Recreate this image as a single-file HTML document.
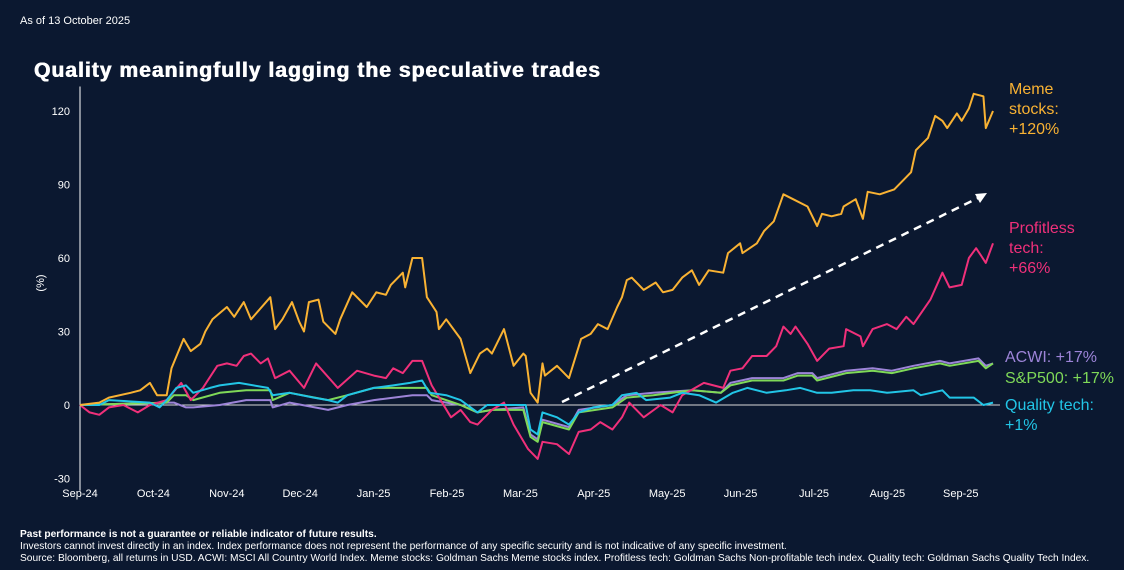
<!DOCTYPE html>
<html><head><meta charset="utf-8">
<style>
html,body{margin:0;padding:0;background:#0b1830;}
body{width:1124px;height:570px;overflow:hidden;position:relative;font-family:"Liberation Sans",Arial,sans-serif;color:#fff;}
.t{position:absolute;white-space:nowrap;}
</style></head>
<body>
<div class="t" style="left:20px;top:15px;font-size:11px;">As of 13 October 2025</div>
<div class="t" style="left:34px;top:59px;font-size:21px;font-weight:bold;letter-spacing:1.05px;text-shadow:0.5px 0 0 #fff,-0.3px 0 0 #fff;">Quality meaningfully lagging the speculative trades</div>
<svg id="chart" width="1124" height="570" style="position:absolute;left:0;top:0;"></svg>
<div class="t" style="left:1009px;top:80px;font-size:16px;line-height:20px;color:#f9b233;">Meme<br>stocks:<br>+120%</div>
<div class="t" style="left:1009px;top:219px;font-size:16px;line-height:20px;color:#f0307a;">Profitless<br>tech:<br>+66%</div>
<div class="t" style="left:1005px;top:349px;font-size:16px;color:#9d84d8;">ACWI: +17%</div>
<div class="t" style="left:1005px;top:370px;font-size:16px;color:#7fd958;">S&amp;P500: +17%</div>
<div class="t" style="left:1005px;top:396px;font-size:16px;line-height:20px;color:#22c5e6;">Quality tech:<br>+1%</div>
<div class="t" style="left:20px;top:529px;font-size:10.2px;line-height:12px;">
<b>Past performance is not a guarantee or reliable indicator of future results.</b><br>
Investors cannot invest directly in an index. Index performance does not represent the performance of any specific security and is not indicative of any specific investment.<br>
Source: Bloomberg, all returns in USD. ACWI: MSCI All Country World Index. Meme stocks: Goldman Sachs Meme stocks index. Profitless tech: Goldman Sachs Non-profitable tech index. Quality tech: Goldman Sachs Quality Tech Index.</div>
<script>
const monthLabels=["Sep-24","Oct-24","Nov-24","Dec-24","Jan-25","Feb-25","Mar-25","Apr-25","May-25","Jun-25","Jul-25","Aug-25","Sep-25"];
const yTicks=[120,90,60,30,0,-30];
const memeDays=[0,8,12,21,25,29,32,36,38,43,46,50,52,55,61,64,68,71,79,81,84,88,91,93,95,99,101,106,108,113,119,123,127,129,134,135,138,142,144,148,149,152,158,162,166,169,171,176,180,184,185,187,190,192,193,198,203,208,212,215,219,223,225,227,229,234,239,242,246,250,254,257,261,267,269,274,275,281,284,288,292,296,302,306,308,312,316,317,322,325,327,332,338,342,345,347,352,355,358,360,364,366,369,371,375,376,379];
const memeVals=[0,1,3,5,6,9,4,4,15,27,22,25,30,35,40,36,42,35,44,31,35,42,34,30,42,43,34,29,35,46,40,46,45,49,54,48,60,60,44,38,31,35,27,13,21,23,21,31,16,21,20,5,1,17,12,16,11,27,29,33,31,40,44,51,52,47,50,46,47,52,55,49,55,54,62,66,62,66,71,75,86,84,81,73,78,77,78,81,84,76,87,86,88,92,95,104,109,118,116,113,119,116,121,127,126,113,120];
const profDays=[0,4,8,12,18,24,29,36,42,46,51,57,61,65,68,71,75,78,81,87,93,98,107,115,122,127,130,134,138,142,146,154,158,162,165,171,176,180,186,190,192,198,203,207,212,216,221,225,228,234,241,246,250,259,267,270,275,279,285,289,292,295,297,302,306,311,317,318,324,325,329,335,339,343,346,353,358,361,366,369,372,374,376,379];
const profVals=[0,-3,-4,-1,0,-3,0,2,9,2,7,16,17,16,20,21,17,19,11,14,7,17,7,14,12,11,15,13,18,18,8,-5,-2,-7,-8,-2,1,-8,-18,-22,-15,-16,-20,-11,-10,-7,-10,-5,1,-5,0,-3,4,9,7,14,15,20,20,24,32,29,32,25,18,23,24,31,28,24,31,33,31,36,33,43,54,48,49,60,64,61,58,66];
const qualDays=[0,8,12,29,33,36,40,44,47,54,58,66,78,80,87,97,103,107,111,122,130,137,142,145,152,158,165,169,177,185,187,190,192,198,203,207,213,221,225,231,235,245,250,257,264,271,277,285,293,299,306,312,321,328,335,346,349,358,361,371,375,379];
const qualVals=[0,0,2,1,-1,2,7,8,5,7,8,9,7,4,5,3,2,1,4,7,8,9,10,5,4,2,-3,0,0,0,-10,-12,-3,-5,-8,-3,-1,0,4,5,2,3,5,4,1,5,7,5,6,7,5,5,6,6,5,6,4,6,3,3,0,1];
const broadDays=[0,36,39,44,47,58,69,79,80,87,103,111,122,138,144,146,158,165,171,184,187,190,192,203,207,221,227,238,254,266,270,279,292,298,304,306,318,329,337,346,357,361,373,376,379];
const spVals=[0,1,4,4,2,5,6,6,2,5,2,4,7,7,7,4,0,-3,-2,-2,-13,-15,-7,-10,-3,-1,3,4,6,5,8,10,10,12,12,10,13,14,13,15,17,16,18,15,17];
const acwiVals=[0,1,1,-1,-1,0,2,2,-1,1,-2,0,2,4,4,2,0,-3,-2,-1,-12,-14,-6,-9,-2,0,4,5,6,5,9,11,11,13,13,11,14,15,14,16,18,17,19,16,17];

const NS="http://www.w3.org/2000/svg";
const svg=document.getElementById('chart');
const X0=80,X1=993,D1=379,Y0=405,PPU=2.45,MONTHPX=73.4;
const xd=d=>X0+(d/D1)*(X1-X0);
const yv=v=>Y0-v*PPU;
function mk(tag,attrs){const e=document.createElementNS(NS,tag);for(const k in attrs)e.setAttribute(k,attrs[k]);svg.appendChild(e);return e;}

const ax=mk('line',{x1:X0,y1:yv(130),x2:X0,y2:yv(-35),stroke:'#ffffff','stroke-width':1});


const zl=mk('line',{x1:X0,y1:Y0,x2:1000,y2:Y0,stroke:'#d8d8d8','stroke-width':1});



yTicks.forEach(v=>{
  const t=mk('text',{x:70,y:yv(v)+4,'text-anchor':'end',fill:'#fff','font-size':11,'font-family':'Liberation Sans, sans-serif'});
  t.textContent=v;
  
  
});
const yt=mk('text',{x:44,y:283,'text-anchor':'middle',fill:'#fff','font-size':11,'font-family':'Liberation Sans, sans-serif',transform:'rotate(-90 44 283)'});
yt.textContent='(%)';


monthLabels.forEach((m,i)=>{
  const t=mk('text',{x:X0+i*MONTHPX,y:497,'text-anchor':'middle',fill:'#fff','font-size':11,'font-family':'Liberation Sans, sans-serif'});
  t.textContent=m;
  
  
});

function line(days,vals,color,name){
  const pts=days.map((d,i)=>xd(d).toFixed(1)+','+yv(vals[i]).toFixed(1)).join(' ');
  const p=mk('polyline',{points:pts,fill:'none',stroke:color,'stroke-width':2,'stroke-linejoin':'round'});
  
  
}
line(broadDays,acwiVals,'#9d84d8','series-acwi');
line(broadDays,spVals,'#7fd958','series-sp500');
line(profDays,profVals,'#f0307a','series-profitless-tech');
line(qualDays,qualVals,'#22c5e6','series-quality-tech');
line(memeDays,memeVals,'#f9b233','series-meme-stocks');

const ar=mk('line',{x1:562,y1:402,x2:978,y2:198,stroke:'#fff','stroke-width':2.5,'stroke-dasharray':'8,6'});


const ah=mk('polygon',{points:'987,193 975,194 980,203',fill:'#fff'});


</script>
</body></html>
